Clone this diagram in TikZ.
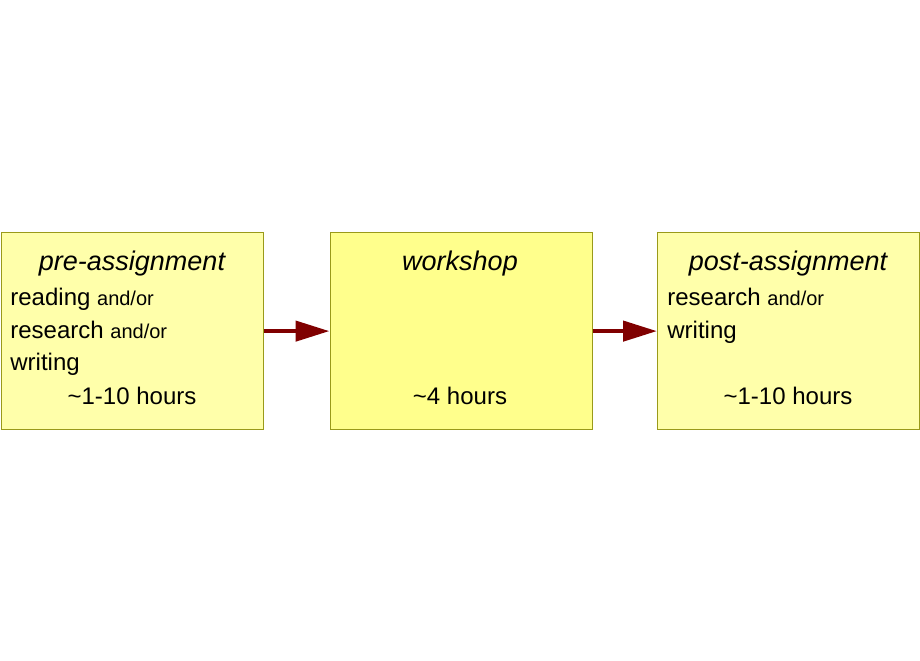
\documentclass[tikz,border=0pt]{standalone}
\usepackage{fontspec}
\setmainfont{Liberation Sans}
\usetikzlibrary{arrows.meta,positioning}
\definecolor{boxline}{HTML}{9A9A1A}
\definecolor{boxpale}{HTML}{FFFFAA}
\definecolor{boxmid}{HTML}{FFFF8C}
\definecolor{arrowred}{HTML}{800000}
\tikzset{
  stage/.style = {draw=boxline, line width=0.6pt, minimum width=131pt, minimum height=98.5pt, inner sep=0pt},
  stagetitle/.style = {font=\fontsize{13.5}{14}\selectfont\itshape, anchor=base},
  stagetext/.style = {font=\fontsize{12}{13}\selectfont, anchor=base west, inner sep=0pt},
  flowarrow/.style = {-{Triangle[length=17pt,width=10pt]}, arrowred, line width=2.2pt}
}
\newcommand{\andor}{{\fontsize{10}{11}\selectfont and/or}}
\begin{document}
\begin{tikzpicture}[x=0.5pt, y=-0.5pt]
\useasboundingbox (0,0) rectangle (920,660);
\node[stage, fill=boxpale, anchor=north west] (pre) at (1,232) {};
\node[stage, fill=boxmid, anchor=north west] (work) at (329.5,232) {};
\node[stage, fill=boxpale, anchor=north west] (post) at (657,232) {};
% pre-assignment
\node[stagetitle] (pretitle) at (132,270) {pre-assignment};
\node[stagetext] (pre1) at (10,305) {reading \andor};
\node[stagetext] (pre2) at (10,338) {research \andor};
\node[stagetext] (pre3) at (10,370) {writing};
\node[stagetext, anchor=base] (prehours) at (132,404) {\textasciitilde1-10 hours};
% workshop
\node[stagetitle] (worktitle) at (460,270) {workshop};
\node[stagetext, anchor=base] (workhours) at (460,404) {\textasciitilde4 hours};
% post-assignment
\node[stagetitle] (posttitle) at (788,270) {post-assignment};
\node[stagetext] (post1) at (667,305) {research \andor};
\node[stagetext] (post2) at (667,338) {writing};
\node[stagetext, anchor=base] (posthours) at (788,404) {\textasciitilde1-10 hours};
\draw[flowarrow] (pre.east) -- (work.west);
\draw[flowarrow] (work.east) -- (post.west);
\end{tikzpicture}
\end{document}
